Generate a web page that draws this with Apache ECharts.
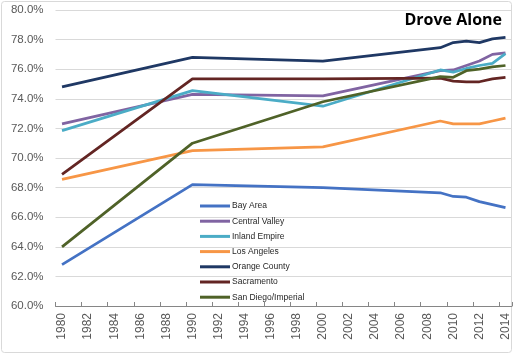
<!DOCTYPE html>
<html>
<head>
<meta charset="utf-8">
<script src="https://cdn.jsdelivr.net/npm/echarts@6/dist/echarts.min.js"></script>
<style>html,body{margin:0;padding:0;background:#fff;}#c{width:514px;height:355px;}</style>
</head>
<body>
<div id="c"></div>
<script>
// Category axis labels (years)
var years = [1980,1981,1982,1983,1984,1985,1986,1987,1988,1989,1990,1991,1992,1993,1994,1995,1996,1997,1998,1999,2000,2001,2002,2003,2004,2005,2006,2007,2008,2009,2010,2011,2012,2013,2014];
// Years with observations
var dataYears = [1980,1990,2000,2009,2010,2011,2012,2013,2014];
// Series values (% drove alone)
var bayArea       = [62.8, 68.2, 68.0, 67.65, 67.4, 67.35, 67.05, 66.85, 66.65];
var centralValley = [72.3, 74.3, 74.2, 75.9, 75.95, 76.25, 76.55, 77.0, 77.1];
var inlandEmpire  = [71.85, 74.55, 73.5, 75.95, 75.8, 76.05, 76.25, 76.4, 77.05];
var losAngeles    = [68.55, 70.5, 70.75, 72.5, 72.3, 72.3, 72.3, 72.5, 72.7];
var orangeCounty  = [74.8, 76.8, 76.55, 77.45, 77.8, 77.9, 77.8, 78.05, 78.15];
var sacramento    = [68.9, 75.35, 75.35, 75.4, 75.2, 75.15, 75.15, 75.35, 75.45];
var sanDiego      = [64.0, 71.0, 73.8, 75.5, 75.45, 75.9, 76.0, 76.15, 76.25];
var seriesNames = ['Bay Area','Central Valley','Inland Empire','Los Angeles','Orange County','Sacramento','San Diego/Imperial'];
var seriesValues = [bayArea, centralValley, inlandEmpire, losAngeles, orangeCounty, sacramento, sanDiego];
var colors = ['#4472C4','#8064A2','#4BACC6','#F79646','#1F3864','#632523','#4F6228'];

function toCategoryData(vals){
  var out = years.map(function(){ return null; });
  dataYears.forEach(function(y,i){ out[years.indexOf(y)] = vals[i]; });
  return out;
}

var chart = echarts.init(document.getElementById('c'), null, {renderer:'canvas'});
chart.setOption({
  animation:false,
  backgroundColor:'#fff',
  title:{text:'Drove Alone', right:7, top:7,
    textStyle:{fontFamily:'Open Sans', fontWeight:'bold', fontSize:16, color:'#000'}},
  graphic:[{type:'rect', shape:{x:1.5,y:1.5,width:510,height:351,r:3},
    style:{fill:'none', stroke:'#D9D9D9', lineWidth:1}, silent:true, z:-1}],
  legend:{orient:'vertical', left:195, top:196, itemWidth:30, itemHeight:3, itemGap:5.2,
    icon:'rect',
    textStyle:{fontFamily:'Liberation Sans', fontSize:8.5, color:'#262626', lineHeight:10, padding:[0,0,0,-3]},
    data:seriesNames},
  grid:{left:55.5, right:2, top:10, bottom:49, containLabel:false},
  xAxis:{type:'category', data:years.map(String), boundaryGap:true,
    axisLine:{lineStyle:{color:'#868686', width:1}},
    axisTick:{show:true, inside:true, length:4, interval:1, lineStyle:{color:'#868686'}},
    axisLabel:{interval:1, rotate:90, margin:7, fontFamily:'Liberation Sans', fontSize:12, color:'#595959'},
    splitLine:{show:false}},
  yAxis:{type:'value', min:60, max:80, interval:2,
    axisLine:{show:false}, axisTick:{show:false},
    axisLabel:{formatter:function(v){return v.toFixed(1)+'%';}, margin:12,
      fontFamily:'Liberation Sans', fontSize:11.5, color:'#595959'},
    splitLine:{lineStyle:{color:'#D9D9D9', width:1}}},
  series: seriesNames.map(function(n,i){
    return {name:n, type:'line', data:toCategoryData(seriesValues[i]), connectNulls:true,
      showSymbol:false, symbol:'none', color:colors[i],
      lineStyle:{width:2.75, color:colors[i]}};
  })
});
</script>
</body>
</html>
